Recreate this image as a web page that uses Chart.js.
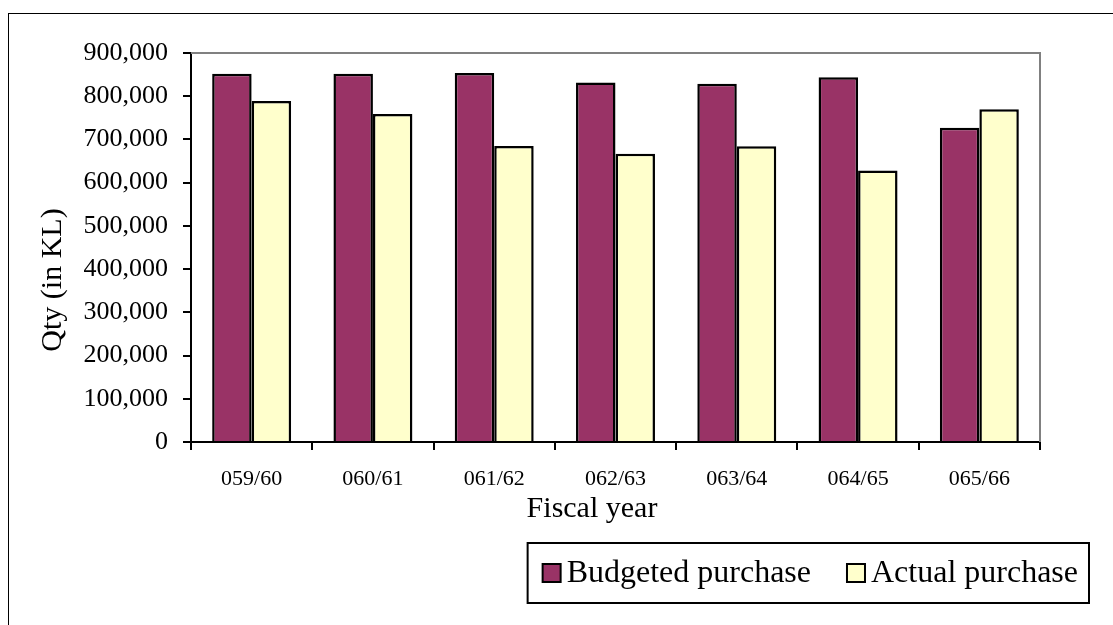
<!DOCTYPE html>
<html>
<head>
<meta charset="utf-8">
<script src="https://cdn.jsdelivr.net/npm/chart.js@4"></script>
<style>
  html, body { margin: 0; padding: 0; background: #fff; }
  #wrap { position: relative; width: 1113px; height: 625px; }
  #frame { position: absolute; left: 8px; top: 13px; right: 0; bottom: 0; border-left: 1px solid #000; border-top: 1px solid #000; }
  canvas { position: absolute; left: 0; top: 0; }
</style>
</head>
<body>
<div id="wrap">
  <div id="frame"></div>
  <canvas id="chart" width="1113" height="625"></canvas>
</div>
<script>
const years = ['059/60', '060/61', '061/62', '062/63', '063/64', '064/65', '065/66'];
const budgeted = [852000, 852000, 854000, 832000, 829000, 844000, 727000];
const actual = [789000, 759000, 685000, 667000, 684000, 628000, 770000];
const seriesNames = ['Budgeted purchase', 'Actual purchase'];
const seriesColors = ['#993366', '#FFFFCC'];
const yTitle = 'Qty (in KL)';
const xTitle = 'Fiscal year';

const serif = "'Liberation Serif', 'Times New Roman', serif";

// gray top/right edge of the plot area, axis titles, boxed legend
const extras = {
    id: 'extras',
    beforeDatasetsDraw(chart) {
        const { ctx, chartArea: a } = chart;
        ctx.save();
        ctx.strokeStyle = '#808080';
        ctx.lineWidth = 2;
        ctx.beginPath();
        ctx.moveTo(a.left, a.top);
        ctx.lineTo(a.right, a.top);
        ctx.lineTo(a.right, a.bottom);
        ctx.stroke();
        ctx.restore();
    },
    afterDraw(chart) {
        const { ctx, chartArea: a } = chart;
        ctx.save();
        ctx.fillStyle = '#000';

        // x axis title (sits a little left of the plot centre in the original)
        ctx.font = '30px ' + serif;
        ctx.textAlign = 'center';
        ctx.textBaseline = 'alphabetic';
        ctx.fillText(xTitle, 592, 517);

        // y axis title
        ctx.textBaseline = 'middle';
        ctx.translate(53, 280);
        ctx.rotate(-Math.PI / 2);
        ctx.fillText(yTitle, 0, 0);
        ctx.setTransform(1, 0, 0, 1, 0, 0);

        // legend
        ctx.font = '32px ' + serif;
        const box = 18, gap = 6, itemGap = 36, padL = 15, padR = 11;
        const widths = chart.data.datasets.map(d => ctx.measureText(d.label).width);
        let total = padL + padR;
        widths.forEach((w, i) => { total += box + gap + w + (i > 0 ? itemGap : 0); });
        const right = a.right + 49;
        const left = right - total;
        const top = 543, bottom = 603;
        ctx.strokeStyle = '#000';
        ctx.lineWidth = 2;
        ctx.strokeRect(left, top, right - left, bottom - top);
        const cy = (top + bottom) / 2;
        let x = left + padL;
        chart.data.datasets.forEach((d, i) => {
            ctx.fillStyle = d.backgroundColor;
            ctx.fillRect(x, cy - box / 2, box, box);
            ctx.lineWidth = 2;
            ctx.strokeRect(x, cy - box / 2, box, box);
            ctx.fillStyle = '#000';
            ctx.textAlign = 'left';
            ctx.fillText(d.label, x + box + gap, cy + 1);
            x += box + gap + widths[i] + itemGap;
        });
        ctx.restore();
    }
};

new Chart(document.getElementById('chart'), {
    type: 'bar',
    data: {
        labels: years,
        datasets: [
            { label: seriesNames[0], data: budgeted, backgroundColor: seriesColors[0], borderColor: '#000', borderWidth: 2.5 },
            { label: seriesNames[1], data: actual, backgroundColor: seriesColors[1], borderColor: '#000', borderWidth: 2.5 }
        ]
    },
    options: {
        responsive: false,
        animation: false,
        layout: { padding: { top: 53, left: 30, right: 73, bottom: 93 } },
        datasets: { bar: { categoryPercentage: 0.651, barPercentage: 1 } },
        plugins: { legend: { display: false }, tooltip: { enabled: false } },
        scales: {
            x: {
                afterFit: s => { s.height = 90; },
                grid: { offset: true, drawOnChartArea: false, tickLength: 8, color: '#000', lineWidth: 2 },
                border: { color: '#000', width: 2 },
                ticks: { color: '#000', font: { family: serif, size: 22 }, padding: 16, maxRotation: 0 }
            },
            y: {
                min: 0,
                max: 900000,
                afterFit: s => { s.width = 161; },
                grid: { drawOnChartArea: false, tickLength: 8, color: '#000', lineWidth: 2 },
                border: { color: '#000', width: 2 },
                ticks: {
                    stepSize: 100000,
                    color: '#000',
                    padding: 15,
                    font: { family: serif, size: 26 },
                    callback: v => v.toLocaleString('en-US')
                }
            }
        }
    },
    plugins: [extras]
});
</script>
</body>
</html>
